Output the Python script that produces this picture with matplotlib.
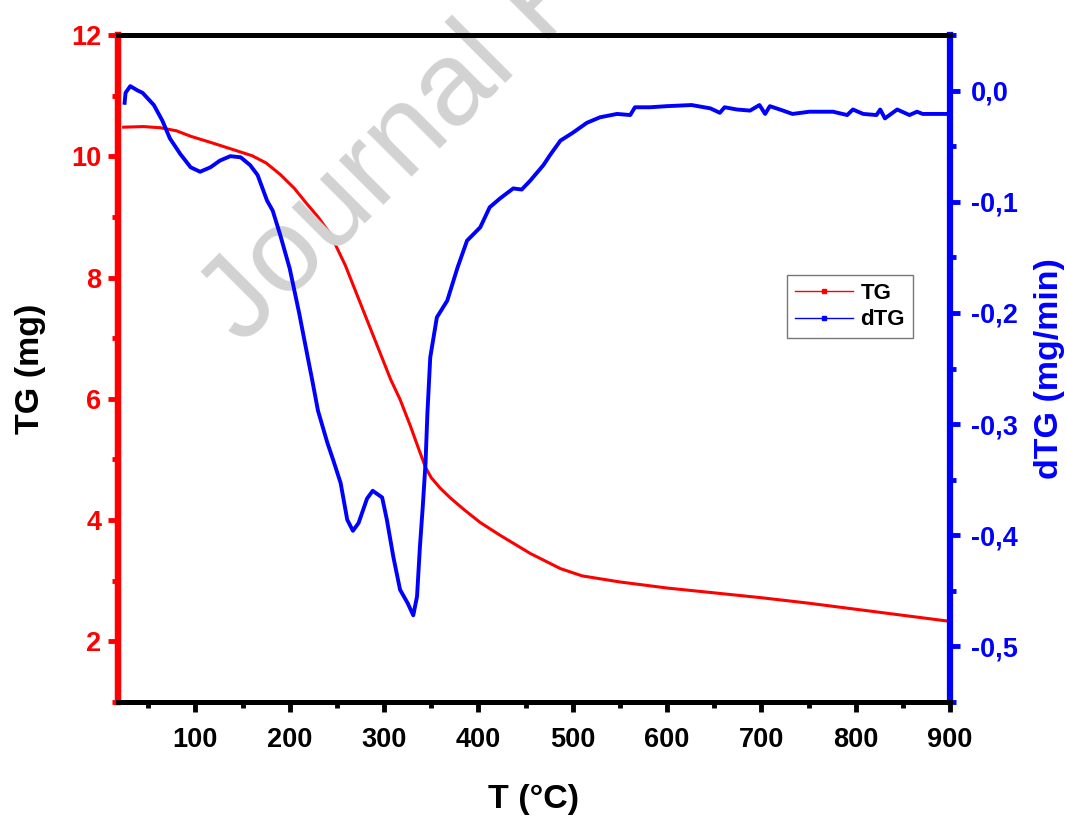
import numpy as np
import matplotlib.pyplot as plt
from matplotlib.ticker import MultipleLocator, FuncFormatter
from matplotlib.lines import Line2D

# TG curve (mg) vs temperature
T_tg = [24, 45, 63, 80, 95, 120, 140, 160, 175, 190, 205, 218, 230, 243, 259, 283, 307, 317,
        328, 338, 344, 350, 360, 370, 385, 402, 423, 455, 487, 510, 550, 600, 650,
        700, 750, 800, 850, 900]
tg = [10.48, 10.49, 10.47, 10.42, 10.33, 10.21, 10.11, 10.01, 9.89, 9.70, 9.47, 9.22, 9.00, 8.72,
      8.20, 7.26, 6.32, 5.99, 5.55, 5.12, 4.87, 4.70, 4.52, 4.37, 4.17, 3.96, 3.75,
      3.45, 3.20, 3.08, 2.98, 2.88, 2.80, 2.72, 2.63, 2.53, 2.43, 2.33]

# dTG curve (mg/min) vs temperature
T_dtg = [25, 26, 31, 39, 44, 56, 65, 73, 84, 95, 105, 116, 126, 137, 148, 158, 166,
         176, 182, 190, 200, 210, 218, 224, 230, 240, 246, 254, 261, 267, 273, 282,
         288, 298, 303, 310, 317, 325, 331, 335, 338, 341, 344, 346, 349, 356, 367,
         378, 388, 402, 412, 423, 437, 446, 455, 469, 476, 487, 500, 515, 529, 547,
         561, 566, 582, 600, 626, 646, 656, 661, 674, 688, 698, 704, 709, 723, 733,
         751, 776, 791, 797, 808, 822, 826, 831, 844, 857, 865, 871, 897]
dtg = [-0.011, -0.002, 0.004, 0.0, -0.002, -0.013, -0.027, -0.043, -0.057, -0.069,
       -0.073, -0.069, -0.063, -0.059, -0.060, -0.067, -0.076, -0.099, -0.108, -0.130,
       -0.160, -0.200, -0.235, -0.261, -0.288, -0.317, -0.332, -0.353, -0.386, -0.396,
       -0.389, -0.367, -0.360, -0.366, -0.386, -0.420, -0.449, -0.461, -0.472, -0.455,
       -0.411, -0.375, -0.335, -0.290, -0.240, -0.204, -0.189, -0.159, -0.135, -0.123,
       -0.105, -0.097, -0.088, -0.089, -0.081, -0.067, -0.058, -0.045, -0.038, -0.029,
       -0.024, -0.021, -0.022, -0.015, -0.015, -0.014, -0.013, -0.016, -0.020, -0.015,
       -0.017, -0.018, -0.013, -0.021, -0.014, -0.018, -0.021, -0.019, -0.019, -0.022,
       -0.017, -0.021, -0.022, -0.017, -0.025, -0.017, -0.022, -0.019, -0.021, -0.021]

plt.rcParams['font.family'] = 'Liberation Sans'
plt.rcParams['font.weight'] = 'bold'

fig = plt.figure(figsize=(10.66, 8.16), dpi=100)
ax = fig.add_axes([0.1107, 0.1397, 0.7805, 0.8174])
ax2 = ax.twinx()

# watermark
fig.text(0.17, 0.585, 'Journal Pre-proof', fontsize=86, color='#d2d2d2', fontweight='normal',
         rotation=45, ha='left', va='baseline', zorder=0)

ax.plot(T_tg, tg, color='red', lw=2.2)
ax2.plot(T_dtg, dtg, color='blue', lw=2.8)

ax.set_xlim(18, 900)
ax.set_ylim(1, 12)
ax2.set_ylim(-0.55, 0.05)

ax.xaxis.set_major_locator(MultipleLocator(100))
ax.xaxis.set_minor_locator(MultipleLocator(50))
ax.yaxis.set_major_locator(MultipleLocator(2))
ax.yaxis.set_minor_locator(MultipleLocator(1))
ax2.yaxis.set_major_locator(MultipleLocator(0.1))
ax2.yaxis.set_minor_locator(MultipleLocator(0.05))
ax2.yaxis.set_major_formatter(FuncFormatter(lambda v, p: ('%.1f' % v).replace('.', ',').replace('-0,0', '0,0')))
ax.xaxis.set_major_formatter(FuncFormatter(lambda v, p: '%d' % v if v >= 100 else ''))

for a in (ax, ax2):
    a.spines['top'].set_color('black')
    a.spines['bottom'].set_color('black')
    a.spines['top'].set_linewidth(3.6)
    a.spines['bottom'].set_linewidth(3.6)
ax2.spines['left'].set_color('red')
ax2.spines['left'].set_linewidth(4.5)
ax2.spines['right'].set_color('blue')
ax2.spines['right'].set_linewidth(4.5)
ax.spines['left'].set_color('red')
ax.spines['left'].set_linewidth(4.5)
ax.spines['right'].set_visible(False)

ax.tick_params(axis='x', which='major', direction='out', length=7, width=3.5, labelsize=19.5, pad=11)
ax.tick_params(axis='x', which='minor', direction='out', length=4, width=3.5)
ax.tick_params(axis='y', which='major', direction='out', length=7, width=3.5, color='red',
               labelcolor='red', labelsize=19.5, pad=5)
ax.tick_params(axis='y', which='minor', direction='out', length=4, width=3.5, color='red')
ax2.tick_params(axis='y', which='major', direction='out', length=7, width=3.5, color='blue',
                labelcolor='blue', labelsize=19.5, pad=8)
ax2.tick_params(axis='y', which='minor', direction='out', length=4, width=3.5, color='blue')

ax.set_xlabel('T (°C)', fontsize=24.5, fontweight='bold', labelpad=22)
ax.set_ylabel('TG (mg)', fontsize=24.5, fontweight='bold', labelpad=18)
ax2.set_ylabel('dTG (mg/min)', fontsize=24.5, fontweight='bold', color='blue', labelpad=12)

handles = [Line2D([], [], color='red', lw=1, marker='s', markersize=3),
           Line2D([], [], color='blue', lw=1, marker='s', markersize=3)]
leg = ax.legend(handles, ['TG', 'dTG'], loc='upper left', bbox_to_anchor=(0.804, 0.640),
                fontsize=16, frameon=True, fancybox=False, handlelength=2.6,
                handletextpad=0.35, borderpad=0.35, labelspacing=0.25, borderaxespad=0)
leg.get_frame().set_edgecolor('#555555')
leg.get_frame().set_linewidth(1)
for t in leg.get_texts():
    t.set_fontweight('bold')
ax2.set_zorder(1)

fig.savefig('out.png', dpi=100)
